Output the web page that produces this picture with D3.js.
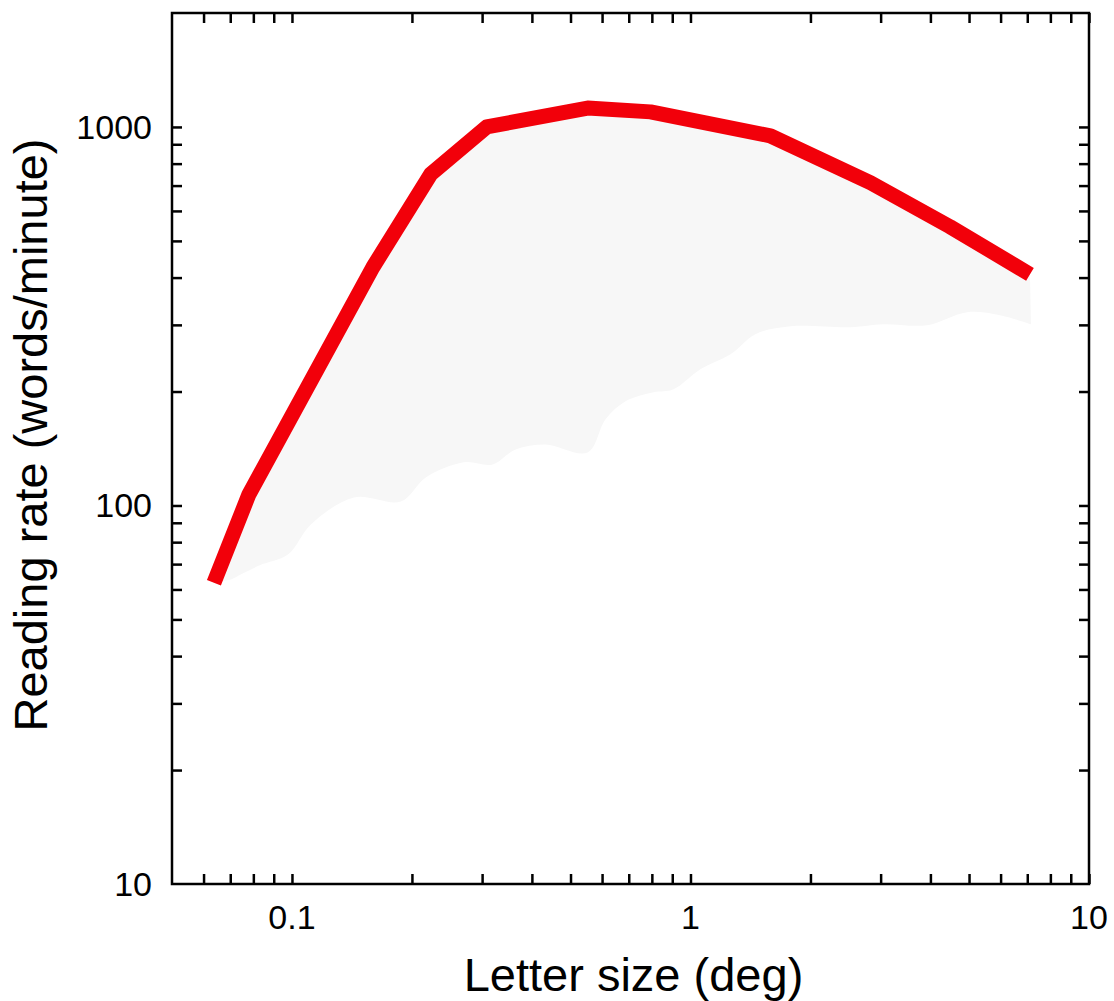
<!DOCTYPE html>
<html>
<head>
<meta charset="utf-8">
<script src="https://cdn.jsdelivr.net/npm/d3@7"></script>
<style>
  html, body { margin: 0; padding: 0; background: #fff; }
  svg { display: block; }
  text { font-family: "Liberation Sans", Arial, Helvetica, sans-serif; fill: #000; }
</style>
</head>
<body>
<svg id="chart" width="1114" height="1001"></svg>
<script>
// ---- data ----
const letterSize = [0.0637, 0.078, 0.1596, 0.2231, 0.308, 0.552, 0.794, 1.587, 2.83, 4.48, 7.11];
const readingRate = [62.5, 107, 426, 751, 1000, 1122, 1096, 947, 712, 545, 408];

const lowerSize = [0.0703, 0.0827, 0.0977, 0.1116, 0.143, 0.1876, 0.2167, 0.2699, 0.319, 0.3641, 0.433, 0.5518, 0.6123, 0.6873, 0.8078, 0.9066, 1.059, 1.26, 1.455, 1.781, 2.518, 3.045, 3.926, 4.946, 5.983, 7.15];
const lowerRate = [63.7, 69.4, 74.2, 89.1, 105, 102.5, 118.6, 130, 128.4, 140.6, 145, 138, 168.9, 188.4, 199, 202.8, 229, 250.8, 283.5, 297.6, 295.8, 301.2, 299.4, 324, 318, 301];

const xTickValues = [0.06, 0.07, 0.08, 0.09, 0.1, 0.2, 0.3, 0.4, 0.5, 0.6, 0.7, 0.8, 0.9, 1, 2, 3, 4, 5, 6, 7, 8, 9, 10];
const xTickLabels = ["0.1", "1", "10"];
const yTickValues = [20, 30, 40, 50, 60, 70, 80, 90, 100, 200, 300, 400, 500, 600, 700, 800, 900, 1000];
const yTickLabels = ["10", "100", "1000"];

const xTitle = "Letter size (deg)";
const yTitle = "Reading rate (words/minute)";

(function () {
// ---- layout ----
const pL = 172, pR = 1089, pT = 13, pB = 884;
const svg = d3.select("#chart");

const x = d3.scaleLog().domain([0.05, 10]).range([pL, pR]);
const y = d3.scaleLog().domain([10, 2000]).range([pB, pT]);

// shaded region
const upperPts = letterSize.map((d, i) => [d, readingRate[i]]);
const lowerPts = lowerSize.map((d, i) => [d, lowerRate[i]]).reverse();
const topPath = d3.line().x(d => x(d[0])).y(d => y(d[1]))(upperPts);
const lowPath = d3.line().x(d => x(d[0])).y(d => y(d[1])).curve(d3.curveCatmullRom.alpha(0.5))(lowerPts);
svg.append("path")
  .attr("d", topPath + "L" + lowPath.slice(1) + "Z")
  .attr("fill", "#f7f7f7")
  .attr("stroke", "none");

// red curve
svg.append("path")
  .attr("d", d3.line().x(d => x(d[0])).y(d => y(d[1]))(upperPts))
  .attr("fill", "none")
  .attr("stroke", "#f2000a")
  .attr("stroke-width", 15)
  .attr("stroke-linejoin", "round")
  .attr("stroke-linecap", "butt");

// axes (ticks inward)
const tickLen = 10;
const axStyle = g => {
  g.select(".domain").remove();
  g.selectAll(".tick line").attr("stroke", "#000").attr("stroke-width", 2.5);
  g.selectAll(".tick text").remove();
};
svg.append("g").attr("transform", `translate(0,${pB})`)
  .call(d3.axisBottom(x).tickValues(xTickValues).tickSize(-tickLen)).call(axStyle);
svg.append("g").attr("transform", `translate(0,${pT})`)
  .call(d3.axisTop(x).tickValues(xTickValues).tickSize(-tickLen)).call(axStyle);
svg.append("g").attr("transform", `translate(${pL},0)`)
  .call(d3.axisLeft(y).tickValues(yTickValues).tickSize(-tickLen)).call(axStyle);
svg.append("g").attr("transform", `translate(${pR},0)`)
  .call(d3.axisRight(y).tickValues(yTickValues).tickSize(-tickLen)).call(axStyle);

// frame
svg.append("rect")
  .attr("x", pL).attr("y", pT)
  .attr("width", pR - pL).attr("height", pB - pT)
  .attr("fill", "none").attr("stroke", "#000").attr("stroke-width", 2.5);

// tick labels
svg.selectAll(".xl").data(xTickLabels).enter().append("text")
  .attr("x", d => x(+d)).attr("y", pB + 45)
  .attr("text-anchor", "middle").attr("font-size", 34)
  .text(d => d);
svg.selectAll(".yl").data(yTickLabels).enter().append("text")
  .attr("x", pL - 20).attr("y", d => y(+d) + 12)
  .attr("text-anchor", "end").attr("font-size", 34)
  .text(d => d);

// titles
svg.append("text")
  .attr("x", (pL + pR) / 2 + 3).attr("y", 991)
  .attr("text-anchor", "middle").attr("font-size", 47)
  .text(xTitle);
svg.append("text")
  .attr("transform", `translate(47,435) rotate(-90)`)
  .attr("text-anchor", "middle").attr("font-size", 47)
  .text(yTitle);
})();
</script>
</body>
</html>
